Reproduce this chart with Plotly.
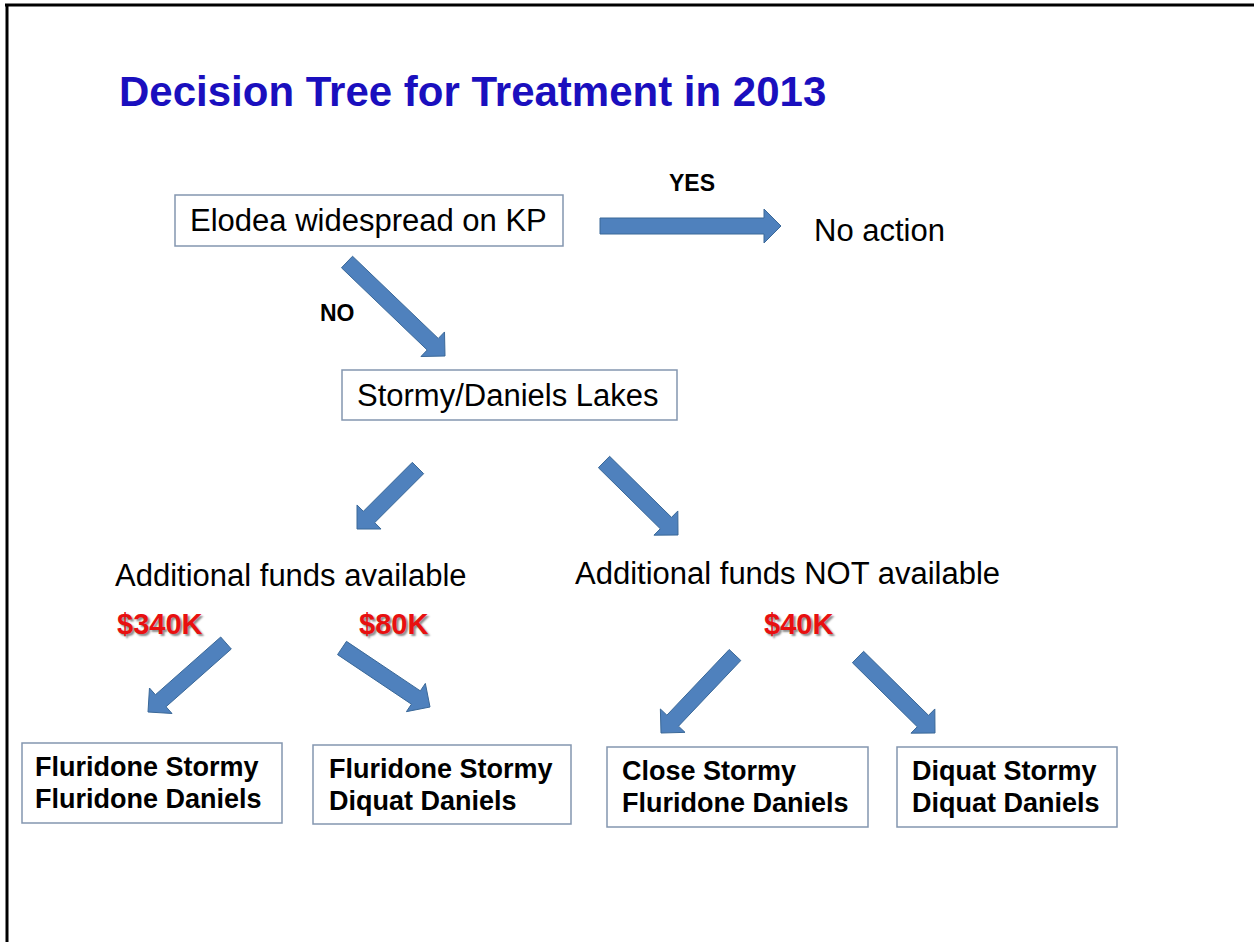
import numpy as np
import plotly.graph_objects as go

W, H = 1254, 942

# ---- text content ----
title_text = "Decision Tree for Treatment in 2013"
node_labels = ["Elodea widespread on KP", "Stormy/Daniels Lakes"]
branch_labels = ["YES", "NO"]
outcome_text = "No action"
fund_labels = ["Additional funds available", "Additional funds NOT available"]
cost_labels = ["$340K", "$80K", "$40K"]
leaf_line1 = ["Fluridone Stormy", "Fluridone Stormy", "Close Stormy", "Diquat Stormy"]
leaf_line2 = ["Fluridone Daniels", "Diquat Daniels", "Fluridone Daniels", "Diquat Daniels"]

# ---- geometry (pixel coordinates of the slide) ----
node_x0 = [175, 342]
node_x1 = [563, 677]
node_y0 = [195, 370]
node_y1 = [246, 420]
node_text_x = [188, 355]

leaf_x0 = [22, 313, 607, 897]
leaf_x1 = [282, 571, 868, 1117]
leaf_y0 = [743, 745, 747, 747]
leaf_y1 = [823, 824, 827, 827]
leaf_text_x = [33, 327, 620, 910]

branch_x = [692, 337]
branch_y = [183, 313]
outcome_x, outcome_y = 812, 230
fund_x = [113, 573]
fund_y = [575, 573]
cost_x = [115, 357, 762]
cost_y = [624, 624, 624]

arrow_tail_x = [600, 347, 418, 604, 226, 342, 735, 858]
arrow_tail_y = [226, 262, 468, 462, 643, 648, 655, 657]
arrow_tip_x = [781, 445, 357, 678, 148, 430, 661, 935]
arrow_tip_y = [226, 356, 529, 535, 712, 707, 733, 733]

SHAFT, HEAD_W, HEAD_L = 16, 34, 17
LEAF_LINE_GAP = 32

FONT = "Arial, Liberation Sans, Helvetica, sans-serif"
ARROW_FILL = "#4F81BD"
ARROW_LINE = "#3A6898"
BOX_LINE = "#8496B0"
TITLE_COL = "#1A0FBE"
RED = "#E81010"


def arrow_polygon(tx, ty, hx, hy):
    tail = np.array([tx, ty], float)
    tip = np.array([hx, hy], float)
    d = tip - tail
    u = d / np.linalg.norm(d)
    n = np.array([-u[1], u[0]])
    base = tip - u * HEAD_L
    pts = [
        tail + n * SHAFT / 2,
        base + n * SHAFT / 2,
        base + n * HEAD_W / 2,
        tip,
        base - n * HEAD_W / 2,
        base - n * SHAFT / 2,
        tail - n * SHAFT / 2,
        tail + n * SHAFT / 2,
    ]
    pts = np.array(pts)
    return pts[:, 0], pts[:, 1]


fig = go.Figure()

for tx, ty, hx, hy in zip(arrow_tail_x, arrow_tail_y, arrow_tip_x, arrow_tip_y):
    px, py = arrow_polygon(tx, ty, hx, hy)
    fig.add_trace(go.Scatter(
        x=px, y=py, mode="lines", fill="toself",
        fillcolor=ARROW_FILL, line=dict(color=ARROW_LINE, width=1),
        hoverinfo="skip", showlegend=False,
    ))

shapes = []
# slide frame (top and left edges)
shapes.append(dict(type="line", x0=5, x1=W, y0=5, y1=5, xref="x", yref="y",
                   line=dict(color="black", width=3)))
shapes.append(dict(type="line", x0=7, x1=7, y0=4, y1=H, xref="x", yref="y",
                   line=dict(color="black", width=3)))

for x0, x1, y0, y1 in zip(node_x0, node_x1, node_y0, node_y1):
    shapes.append(dict(type="rect", x0=x0, x1=x1, y0=y0, y1=y1, xref="x", yref="y",
                       line=dict(color=BOX_LINE, width=1.5), fillcolor="white", layer="below"))
for x0, x1, y0, y1 in zip(leaf_x0, leaf_x1, leaf_y0, leaf_y1):
    shapes.append(dict(type="rect", x0=x0, x1=x1, y0=y0, y1=y1, xref="x", yref="y",
                       line=dict(color=BOX_LINE, width=1.5), fillcolor="white", layer="below"))

ann = []


def txt(x, y, s, size, color="black", bold=False, anchor="left", shadow=None):
    f = dict(family=FONT, size=size, color=color, weight="bold" if bold else "normal")
    if shadow:
        f["shadow"] = shadow
    ann.append(dict(x=x, y=y, xref="x", yref="y", text=s, showarrow=False,
                    xanchor=anchor, yanchor="middle", align="left", font=f))


txt(117, 91, title_text, 42, TITLE_COL, bold=True)

for lab, tx, y0, y1 in zip(node_labels, node_text_x, node_y0, node_y1):
    txt(tx, (y0 + y1) / 2, lab, 31)

for lab, x, y in zip(branch_labels, branch_x, branch_y):
    txt(x, y, lab, 23, bold=True, anchor="center")

txt(outcome_x, outcome_y, outcome_text, 31)

for lab, x, y in zip(fund_labels, fund_x, fund_y):
    txt(x, y, lab, 31)

for lab, x, y in zip(cost_labels, cost_x, cost_y):
    txt(x, y, lab, 29, RED, bold=True, shadow="2px 2px 2px rgba(0,0,0,0.45)")

for l1, l2, tx, y0, y1 in zip(leaf_line1, leaf_line2, leaf_text_x, leaf_y0, leaf_y1):
    yc = (y0 + y1) / 2
    txt(tx, yc - LEAF_LINE_GAP / 2, l1, 27, bold=True)
    txt(tx, yc + LEAF_LINE_GAP / 2, l2, 27, bold=True)

fig.update_layout(
    width=W, height=H, autosize=False,
    margin=dict(l=0, r=0, t=0, b=0, pad=0),
    paper_bgcolor="white", plot_bgcolor="white",
    xaxis=dict(range=[0, W], visible=False, fixedrange=True),
    yaxis=dict(range=[H, 0], visible=False, fixedrange=True),
    shapes=shapes, annotations=ann, showlegend=False,
)

fig.write_html(
    "out.html",
    config={"displayModeBar": False, "staticPlot": True},
    post_script="document.body.style.margin='0';document.body.style.overflow='hidden';",
)
